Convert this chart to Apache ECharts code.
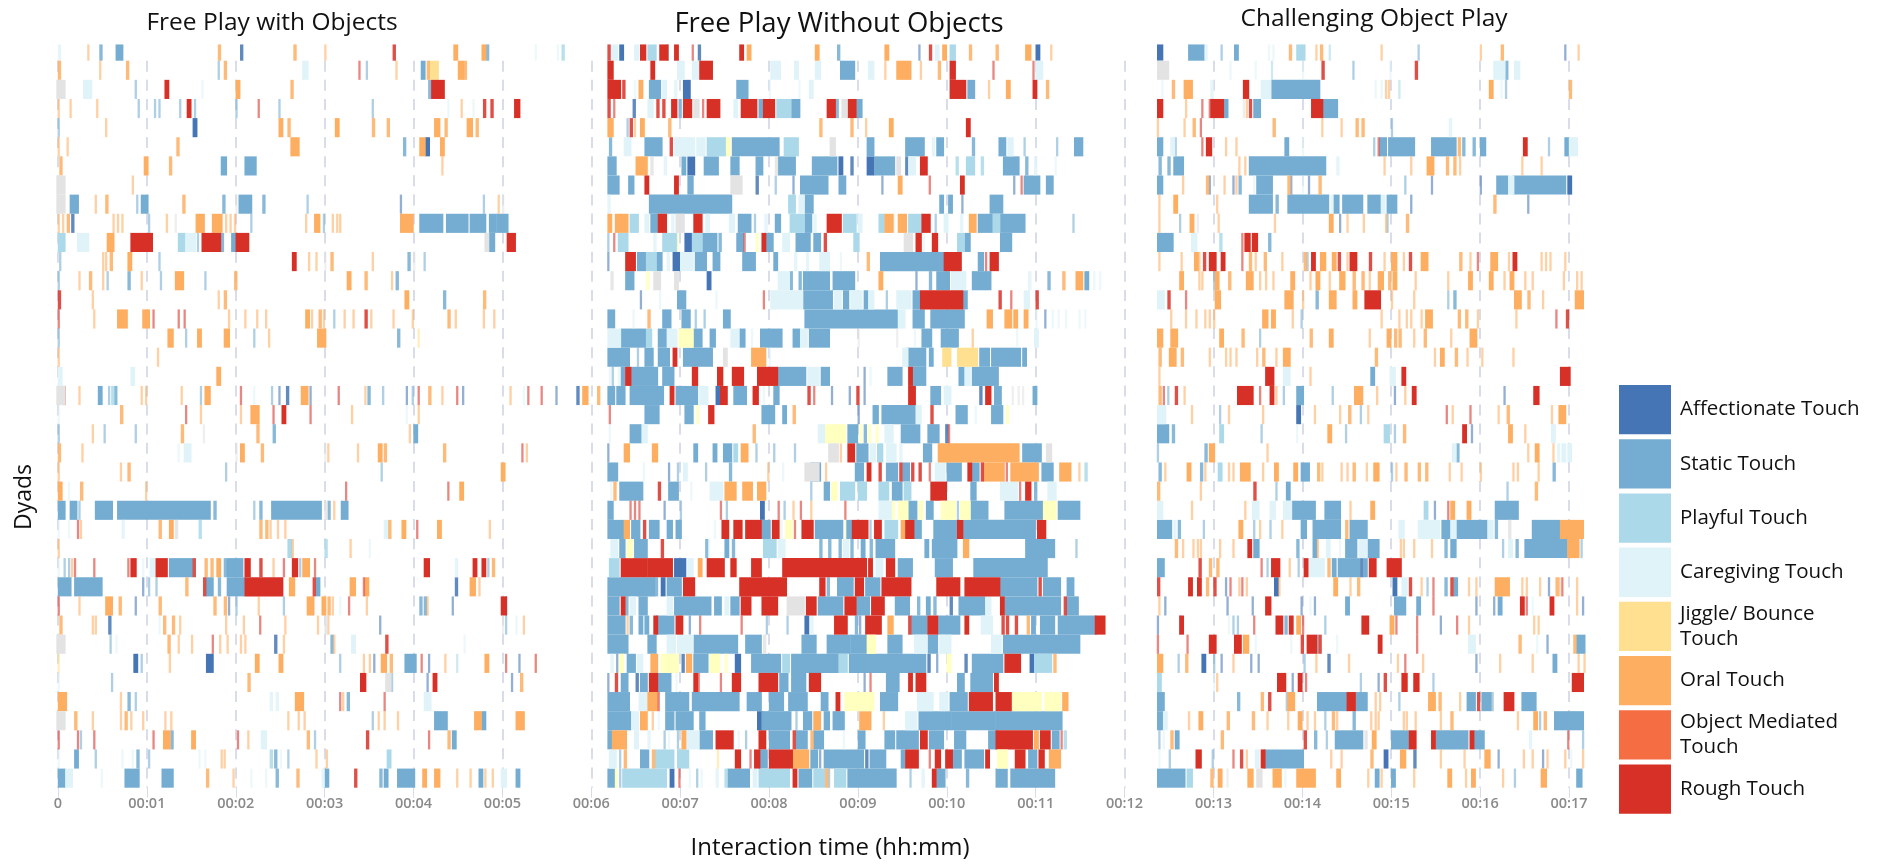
<!DOCTYPE html>
<html><head><meta charset="utf-8">
<script src="https://cdn.jsdelivr.net/npm/echarts@6/dist/echarts.min.js"></script>
<style>html,body{margin:0;padding:0;background:#fff}#c{width:1879px;height:865px}</style>
</head><body><div id="c"></div>
<script>
const A=0,S=1,P=2,C=3,J=4,O=5,M=6,R=7,Y=8,G=9;
const touchTypes=['Affectionate Touch','Static Touch','Playful Touch','Caregiving Touch','Jiggle/ Bounce Touch','Oral Touch','Object Mediated Touch','Rough Touch','Jiggle (pale)','Not coded'];
const touchColors=['#4575b4','#74add1','#abd9e9','#e0f3f8','#fee090','#fdae61','#f46d43','#d73027','#ffffbf','#e3e3e3'];
const minuteLabels=['0','00:01','00:02','00:03','00:04','00:05','00:06','00:07','00:08','00:09','00:10','00:11','00:12','00:13','00:14','00:15','00:16','00:17'];
const panelTitles=['Free Play with Objects','Free Play Without Objects','Challenging Object Play'];
// each dyad row: start second, duration in seconds, touch type
const freePlayWithObjects=[
[0,2,C,20,1,O,28,2,S,39,5,S,108,2,O,123,2,A,159,2,O,180,1,O,226,2,R,267,3,O,286,3,O,289,2,S,322,1,C,337,1,C,340,2,P],
[0,2,O,28,1,O,46,2,O,108,1,S,112,2,O,165,4,C,203,1,R,208,1,S,228,1,O,245,3,S,249,2,O,251,6,J,270,4,O,274,2,O],
[-1,6,G,17,6,C,52,1,S,72,3,R,97,1,C,120,3,O,157,2,O,250,2,S,252,9,R],
[0,1,O,8,1,O,26,1,O,54,1,S,65,1,S,68,1,S,82,1,S,87,3,R,92,1,S,120,1,S,135,1,R,149,1,S,212,1,S,263,1,C,272,1,O,280,1,C,287,2,R,292,2,R,308,4,R],
[0,1,S,32,1,O,91,3,A,149,3,O,155,2,O,187,3,O,212,2,O,222,2,O,254,4,O,261,2,O,276,4,O,282,2,O],
[0,1,O,6,1,O,80,2,O,157,6,O,233,2,S,244,4,O,248,3,A,258,3,O],
[1,2,O,58,3,O,75,2,O,110,4,S,126,8,S,259,1,O],
[-1,6,G,50,1,O],
[-1,6,G,8,6,S,25,1,O,32,2,O,53,1,S,56,5,S,84,2,O,111,2,S,120,1,G,122,9,S,138,2,S,168,1,S,231,1,A,287,1,S,297,1,O,300,1,G],
[0,1,O,3,1,O,6,2,O,9,2,A,37,1,O,40,1,O,43,1,O,61,1,S,73,1,O,79,1,G,93,6,O,104,7,O,113,1,O,116,1,O,119,1,O,130,1,S,167,1,O,173,4,O,179,1,S,185,1,O,188,1,O,190,1,O,231,9,O,244,16,S,262,15,S,278,11,S,291,5,S,296,8,S],
[0,5,P,13,8,C,33,5,O,49,15,R,81,5,P,86,7,C,94,1,S,97,13,R,110,2,S,117,4,S,120,9,R,288,3,G,291,4,S,303,6,R],
[1,1,S,30,1,O,32,1,O,35,2,O,47,3,O,68,1,S,158,3,R,169,1,O,174,1,O,180,1,G,184,2,O,212,1,O,236,2,S,240,1,G,247,1,S],
[0,1,S,14,1,O,21,2,O,30,1,O,33,1,S,47,2,S,56,1,O,69,1,S,79,6,O,99,1,S,119,2,O,195,3,O,207,2,O,225,1,O,228,2,S],
[0,2,R,23,1,O,108,1,O,112,2,O,234,3,O,260,2,S,287,2,O],
[0,1,R,24,1,O,40,7,O,57,5,O,64,1,R,81,1,R,85,1,R,115,1,O,126,1,O,134,1,O,140,1,O,167,3,O,171,1,O,176,2,O,179,1,O,186,1,S,193,1,O,199,1,O,207,2,R,211,1,O,226,1,O,239,1,O,263,2,O,268,1,O,287,1,O,294,1,O],
[0,1,S,74,4,O,86,1,S,94,3,O,112,4,O,132,1,S,142,1,O,175,6,O,229,2,S,243,1,J],
[0,1,O,67,1,O],
[0,3,C,49,3,C,107,3,O],
[-1,6,G,3,2,R,14,1,O,27,3,S,34,1,S,36,2,P,38,2,S,56,1,O,59,1,O,83,1,O,96,1,S,99,4,O,123,1,R,132,1,C,144,1,S,149,1,A,154,2,A,164,5,O,170,1,A,189,1,R,207,1,O,209,2,S,219,1,S,235,1,A,239,1,S,243,1,R,250,2,O,259,1,O,269,1,R,273,1,A,305,1,O,314,1,C,317,1,R,326,1,R,336,1,A,350,2,A,354,4,O,364,2,O],
[0,1,C,42,2,O,86,1,R,96,1,O,123,1,O,130,6,O,145,1,R,151,3,R,170,1,R,198,1,O,235,1,C,243,1,O],
[0,1,S,23,1,O,31,1,S,52,1,S,83,2,O,98,1,G,134,2,O,145,2,S,237,1,O,240,3,S],
[0,2,O,16,1,O,81,1,C,85,5,C,120,1,G,123,3,O,137,2,O,180,1,G,182,1,O,202,1,O,216,3,O,220,2,O,260,2,O,313,1,R,316,1,O],
[0,1,O,42,1,O,47,2,O,113,1,S,218,1,S,299,3,O],
[0,3,O,7,1,C,15,2,O,59,1,O,194,1,R,263,1,R,271,3,O],
[0,5,S,8,5,S,14,1,S,25,12,S,40,63,S,105,2,S,132,1,S,136,2,S,144,34,S,180,2,G,182,2,S,186,1,O,191,5,S],
[0,1,C,7,1,C,13,1,R,15,1,O,43,2,C,68,2,O,75,3,O,79,2,G,95,2,P,136,2,O,140,2,O,143,1,O,148,1,O,153,1,O,220,3,C,223,2,O,232,3,O,242,1,R,256,3,O,291,1,O],
[0,1,O,155,3,P,158,1,O,180,2,P,197,1,O,210,1,C],
[0,1,C,4,1,S,7,1,S,9,1,O,11,1,R,24,1,R,47,1,R,49,4,R,57,1,C,62,4,C,66,8,R,75,16,S,91,2,R,99,2,O,103,2,O,107,3,O,112,2,S,114,11,S,126,4,R,136,2,R,145,1,O,152,1,R,158,4,R,163,1,S,165,5,O,173,1,R,247,4,R,268,2,C,280,3,R,286,3,R,290,1,S,293,2,O],
[0,9,S,11,19,S,57,1,A,61,1,S,66,1,S,86,2,O,98,2,R,100,5,S,108,2,S,114,12,S,126,26,R,156,4,O,172,2,R,174,3,S,197,4,O,206,1,R,207,3,O,268,2,A,278,4,O,284,1,O],
[0,1,R,14,1,O,32,5,O,41,2,O,52,1,A,68,2,O,105,2,O,112,2,O,115,1,A,120,1,S,135,1,O,152,1,S,168,5,O,178,3,O,182,2,O,185,1,O,190,1,C,196,1,R,208,1,O,244,2,S,247,2,S,249,1,O,266,1,A,299,4,R,302,1,A],
[1,2,O,23,1,O,25,1,O,34,2,A,68,1,C,71,2,O,77,2,O,82,1,O,113,1,O,125,1,O,136,1,R,153,1,O,175,1,O,180,2,G,182,1,O,217,1,A,300,1,G,302,1,S,309,1,C,314,1,O],
[-1,6,G,35,1,S,39,1,C,74,2,O,81,1,O,90,1,O,104,1,R,109,1,O,114,1,O,123,1,O,126,1,O,146,2,A,152,1,O,184,2,S,186,1,O,198,3,C,221,2,R,274,1,C],
[0,1,J,51,3,A,56,1,S,75,1,O,100,5,A,133,3,O,149,3,O,190,1,S,206,1,O,210,1,O,213,1,A,218,4,O,224,2,O,234,8,S,245,1,R,250,1,A,261,1,O,269,1,P,288,3,O,302,1,R,311,1,A,322,1,R],
[0,1,C,36,1,S,128,2,O,204,4,R,221,4,G,225,1,S,249,1,A,253,3,R,306,1,A,312,2,O],
[0,6,O,42,1,O,47,2,S,52,1,S,143,2,C,147,2,C,160,6,O,190,1,R,192,1,O,195,2,S,220,1,R,247,5,C],
[-1,6,G,11,2,O,23,1,O,42,1,O,45,2,O,49,1,O,57,1,O,72,1,O,76,1,O,155,1,O,162,1,O,166,1,O,212,1,S,216,1,O,220,1,O,229,1,O,254,9,S,281,5,O,286,3,S,309,6,O],
[0,1,R,13,1,R,15,1,S,24,1,R,64,1,R,71,5,O,76,2,S,90,3,O,121,1,R,128,1,O,137,4,C,168,2,O,173,1,S,208,2,R,250,1,R,263,2,O,266,3,S],
[0,1,C,11,3,S,25,1,S,43,1,C,50,1,C,53,2,S,61,1,S,95,1,C,99,1,C,110,1,O,112,1,O,143,2,P,146,2,S,150,1,C,155,1,S,174,1,O,181,1,O,222,3,P],
[0,5,S,5,5,C,29,1,C,45,10,S,70,8,S,100,2,O,118,1,O,130,1,C,140,1,C,147,2,S,161,2,O,178,2,C,180,3,S,200,2,R,217,2,S,220,3,S,229,12,S,246,3,O,254,4,O,269,1,O,278,1,O,284,3,S,288,1,O,293,1,O,299,4,C,309,3,S]
];
const freePlayWithoutObjects=[
[371,2,R,373,5,C,379,3,A,389,3,C,393,4,R,398,6,P,406,6,R,411,1,A,416,3,R,428,1,R,432,2,A,460,3,R,465,3,O,511,3,O,526,2,S,558,3,O,581,1,A,588,2,R,592,3,C,597,3,O,602,4,P,615,2,O,633,2,O,653,4,O,660,3,A,670,1,O],
[371,4,R,400,3,R,418,5,C,428,5,C,433,9,R,481,7,C,497,3,C,511,4,C,528,10,S,547,4,C,558,1,O,566,10,O,582,1,O,594,2,O,602,4,R,631,1,R,658,1,R,660,5,C],
[371,9,R,381,2,R,389,1,C,392,3,O,399,8,S,408,3,C,416,2,C,422,5,A,458,8,S,480,1,C,500,1,C,507,3,C,602,11,R,614,5,S,628,1,O,640,3,O,658,3,R,667,2,O],
[371,2,R,375,1,R,388,2,A,398,4,C,404,2,R,408,2,R,414,4,R,419,2,S,422,6,R,429,4,G,435,1,R,438,9,R,456,3,C,461,11,R,473,3,S,476,8,R,485,10,P,495,6,S,519,6,R,525,2,S,529,4,G,533,6,R,539,4,S],
[371,4,O,384,1,S,386,2,R,389,1,O,393,3,O,412,2,O,514,2,O,535,2,O,545,1,O,561,3,O,613,3,R],
[372,2,S,382,5,C,396,12,S,413,2,R,416,14,C,431,6,C,438,13,P,451,3,Y,455,32,S,490,10,P,521,4,G,546,5,S,572,13,S,590,2,C,593,5,S,617,2,S,635,5,S,641,4,C,652,1,S,674,1,S,686,6,S],
[371,6,S,390,8,O,400,2,G,409,2,C,421,3,S,425,5,A,436,10,S,454,6,S,471,5,S,484,2,G,486,12,S,509,12,S,521,5,S,527,3,A,535,2,A,546,5,A,551,14,S,566,3,G,572,2,A,574,5,C,582,5,R,606,2,P,613,6,P,623,2,P,638,11,S,653,2,S,659,2,C,673,1,C],
[371,8,S,385,4,S,396,3,R,416,3,R,425,4,S,454,8,G,471,2,A,484,1,S,496,1,A,501,19,S,527,5,S,556,1,A,567,3,O,588,1,R,609,3,R,645,1,A,650,1,R,652,11,S,667,5,S],
[371,2,C,399,56,S,493,5,P,500,4,C,504,6,S,595,3,S,601,3,S,610,1,A,629,9,S],
[371,3,O,376,9,O,386,6,P,396,3,C,400,5,S,405,6,R,414,2,C,417,6,G,429,6,R,437,3,C,453,4,C,459,9,S,470,1,S,477,2,C,484,4,S,494,10,P,504,5,S,510,2,C,519,10,R,530,9,P,540,3,C,554,4,P,558,6,O,564,1,C,567,6,O,574,10,P,583,6,R,592,1,S,598,3,C,609,2,C,615,5,O,621,10,S,631,5,P,636,17,S,685,1,S],
[371,1,S,375,1,R,378,7,P,402,2,C,408,10,P,418,1,Y,423,5,A,428,7,P,435,10,S,446,2,S,458,5,S,463,1,R,471,2,Y,475,3,R,478,5,S,489,5,C,498,10,S,510,5,S,517,2,R,537,4,P,571,6,G,579,4,R,584,1,C,590,4,R,607,5,P,612,4,S,636,8,S],
[371,1,A,383,7,R,391,6,S,397,7,P,404,4,S,411,2,C,415,5,A,420,9,C,430,8,S,442,5,S,462,9,S,483,3,S,497,2,C,505,2,C,514,7,C,528,1,C,546,2,O,555,43,S,598,9,R,607,3,R,621,4,S,626,1,R,629,6,R],
[373,2,G,383,6,S,397,2,Y,402,5,G,416,3,G,438,3,A,486,8,C,494,2,S,500,2,S,503,18,S,523,15,S,554,3,O,579,1,A,588,2,S,593,9,S,603,10,C,617,13,S,655,2,C,668,2,S,678,2,O,687,5,O,693,3,S,699,1,C,703,1,C],
[393,1,A,406,1,C,418,6,S,444,1,C,476,1,R,481,22,C,503,20,S,524,5,C,530,4,S,535,8,C,544,3,S,547,4,C,559,1,S,566,10,C,577,5,S,582,29,R,611,3,S,635,2,R,643,1,R,652,4,C,660,2,R],
[371,5,S,388,1,C,398,2,O,408,6,S,421,6,S,430,1,S,436,1,S,449,5,S,504,63,S,567,5,C,577,5,S,582,3,S,589,23,S,627,4,O,639,5,O,645,3,O,652,3,O,660,1,C,666,1,A,671,1,C,675,1,C,680,1,C,689,1,C,693,1,C],
[371,9,C,380,17,S,397,4,P,405,6,S,411,7,C,419,10,Y,429,6,S,440,4,S,454,6,C,460,4,S,468,1,C,474,15,S,496,5,S,501,5,C,507,14,S,540,1,G,566,1,G,578,1,C,583,7,S,596,12,S,617,1,O,647,1,C,659,3,C],
[371,15,S,391,1,S,396,6,S,405,8,S,415,3,R,422,20,S,449,3,G,468,10,O,480,1,C,570,4,C,573,13,S,588,3,S,597,6,J,607,14,J,622,7,S,630,20,S,651,3,S],
[372,1,C,374,1,S,378,1,C,380,3,S,383,4,R,387,18,S,408,8,S,428,4,R,445,4,R,455,8,R,472,14,R,486,19,S,506,8,C,515,6,S,544,1,A,548,1,C,560,10,S,574,3,R,577,9,S,608,4,S,612,4,C,617,18,S],
[371,5,S,377,6,S,386,12,S,397,12,S,413,3,R,417,15,S,433,6,C,444,3,A,447,5,R,456,9,S,469,4,R,476,1,C,483,4,S,506,2,R,510,1,R,522,1,A,534,1,A,539,2,R,544,1,A,574,5,R,589,7,S,598,5,C,622,2,A,626,4,R,632,5,S,644,1,G,648,1,G,651,1,G,658,3,S],
[372,1,R,396,10,S,423,6,S,431,2,Y,439,4,R,475,9,S,489,3,S,496,2,O,540,1,A,550,4,S,556,23,S,579,4,C,589,2,R,606,8,S,619,1,C,630,8,S,640,2,Y],
[372,1,C,386,8,S,394,4,C,469,2,O,513,5,C,518,14,Y,533,7,S,541,2,Y,544,2,S,547,2,Y,552,2,Y,558,6,C,569,13,S,587,8,S,599,2,A,601,1,R],
[371,1,A,382,4,O,401,4,O,429,3,S,442,3,S,449,6,S,456,3,P,461,5,O,471,1,S,483,1,S,497,1,S,520,7,G,528,1,O,533,5,R,539,8,S,548,4,C,553,4,P,559,7,C,568,2,C,584,6,S,594,55,O,651,13,S,667,4,G],
[371,7,S,395,1,C,412,1,A,418,1,S,422,3,C,437,1,S,453,2,S,479,1,O,489,1,C,504,10,G,508,7,S,518,1,O,538,6,S,546,3,R,554,2,R,559,8,S,568,2,R,570,5,S,576,2,R,581,2,R,588,1,R,592,7,C,600,10,S,614,3,R,617,5,S,623,2,R,625,14,O,640,1,R,643,19,O,664,8,S,676,8,O,689,1,O,693,2,P],
[373,1,C,375,2,O,379,16,S,405,2,R,412,7,S,427,1,C,440,9,C,450,8,O,462,7,O,472,6,O,508,1,S,517,4,S,522,4,Y,528,10,P,540,6,P,554,7,P,563,7,S,571,5,P,589,11,R,616,4,S,636,12,C,649,1,R,653,4,R,659,2,S,668,6,C],
[371,4,S,386,1,R,389,1,R,392,1,R,409,1,A,420,1,S,447,1,R,451,1,S,474,3,A,486,1,R,490,1,S,496,1,O,501,1,R,508,1,O,531,1,R,554,9,C,563,2,Y,567,7,Y,574,6,S,581,3,Y,586,5,S,596,10,Y,607,1,S,609,7,Y,616,12,S,639,26,S,665,9,Y,675,15,S],
[371,11,S,382,4,O,387,6,S,395,2,R,399,7,S,411,4,S,417,4,S,443,1,C,448,5,R,456,6,R,464,11,R,475,6,S,482,5,R,488,1,C,491,5,Y,497,1,R,502,8,R,511,19,S,531,1,Y,532,4,S,536,11,R,548,1,S,551,5,R,558,9,P,569,3,O,572,6,R,578,5,S,591,16,S,607,4,R,611,49,S,661,6,R],
[373,5,C,379,4,S,384,4,Y,389,9,S,407,2,R,437,2,S,439,1,C,450,3,S,455,2,S,476,9,P,486,5,C,514,2,S,520,2,S,527,2,S,530,4,C,535,2,S,542,3,S,548,2,S,552,13,S,585,3,S,590,17,S,611,4,O,653,20,S,687,1,S],
[372,7,P,380,18,R,398,17,R,416,8,A,425,4,C,432,3,O,438,12,R,454,4,R,468,7,R,489,57,R,547,3,R,552,5,C,559,6,R,567,10,S,592,12,S,618,50,S],
[371,32,S,403,2,S,407,3,A,411,10,S,422,8,R,460,32,R,514,4,R,519,2,S,526,11,S,538,6,R,545,10,S,556,20,R,593,16,R,612,24,R,636,25,S,662,2,R,665,12,S,681,5,S],
[371,8,S,380,3,R,383,2,S,386,4,C,392,6,S,411,4,C,416,25,S,443,5,S,450,3,C,454,6,S,461,7,R,475,11,R,492,12,G,505,7,R,513,17,S,531,8,R,539,9,S,549,9,R,565,10,S,580,2,S,586,3,S,591,2,S,602,2,A,608,18,S,626,4,C,636,3,R,639,38,S,679,2,R,681,8,S],
[371,12,S,384,1,O,386,2,S,392,3,S,396,3,S,402,3,R,404,12,S,417,5,R,426,1,A,433,1,R,461,1,R,478,1,S,492,1,S,504,3,A,508,2,C,524,9,R,538,2,S,541,1,A,545,11,R,560,4,O,574,2,R,576,11,S,587,7,R,594,15,S,612,3,R,623,8,C,637,2,R,640,2,R,646,2,R,654,2,O,657,3,S,663,10,S,675,26,S,700,7,R],
[371,14,S,398,6,S,411,6,C,418,11,C,429,30,S,464,11,S,476,2,G,502,10,S,519,16,S,535,11,S,546,6,Y,560,10,S,578,9,C,587,7,S,595,8,C,630,7,C,638,52,S],
[373,2,C,377,1,A,379,3,Y,384,6,S,391,4,C,400,5,O,407,12,Y,421,2,A,424,4,O,429,10,S,440,7,Y,450,2,Y,457,4,A,468,20,S,489,5,P,495,32,S,527,6,P,534,52,S,587,2,A,593,1,A,600,3,Y,612,2,A,617,21,S,639,11,R,656,3,A,659,12,P,672,2,O],
[371,1,A,376,2,R,380,5,S,390,2,A,393,5,S,399,6,R,405,9,S,417,1,C,429,3,R,432,1,R,447,1,R,455,6,R,473,13,R,487,6,S,495,10,S,507,8,R,544,1,A,548,1,R,559,9,S,574,3,R,579,7,R,607,5,S,616,15,S,632,3,R],
[371,15,S,392,6,C,398,7,O,405,1,R,410,16,S,428,32,S,465,10,S,480,10,S,493,6,S,499,7,S,515,5,S,525,3,R,531,20,Y,555,12,S,580,11,C,595,6,C,602,12,S,615,16,R,633,11,R,644,20,Y,666,11,Y,678,4,O],
[371,16,S,387,5,C,393,5,O,401,1,O,405,1,C,410,6,S,417,12,S,433,4,S,472,4,A,475,20,S,498,1,S,503,6,S,510,5,O,517,4,S,523,8,S,541,8,O,557,1,O,572,8,C,581,22,S,603,30,S,633,45,S],
[371,3,S,374,10,O,389,3,C,398,2,C,409,1,S,412,1,C,418,1,S,421,3,O,424,9,C,433,9,S,444,12,R,459,1,C,464,1,S,473,5,R,480,14,S,496,2,R,498,8,S,508,2,O,510,7,S,530,1,C,540,5,S,558,7,S,566,15,S,582,5,R,588,10,S,605,8,S,628,6,S,633,25,R,659,3,O,663,7,R,671,5,S,677,1,R,679,2,P],
[372,5,C,379,1,S,382,2,O,393,6,S,401,2,O,403,13,P,418,8,P,445,1,J,457,4,R,467,1,R,470,4,R,473,6,S,480,16,R,496,11,O,508,5,S,514,1,A,517,27,S,545,2,A,548,11,S,569,3,S,572,9,R,588,1,R,592,4,R,599,5,R,604,6,S,612,13,S,626,3,R,634,7,Y,646,7,R,655,6,S,662,4,R,669,8,O],
[371,5,S,376,2,Y,379,1,S,381,30,P,413,3,A,419,1,R,426,1,C,431,1,S,434,1,C,444,2,C,450,2,P,452,15,S,469,3,C,473,21,P,496,3,R,500,9,S,510,8,P,518,2,O,520,1,S,524,8,P,533,33,S,575,1,S,583,2,C,590,3,R,593,6,S,613,2,S,633,8,S,643,30,S]
];
const challengingObjectPlay=[
[742,4,A,763,11,S,774,2,C,785,1,S,794,3,S,817,1,C,820,1,C,831,2,O,836,6,P,849,1,O,852,2,O,858,1,P,893,1,O,918,1,S,960,1,O,974,2,O,1017,1,A,1026,1,O],
[742,8,G,791,1,C,808,1,C,819,1,P,840,1,C,853,2,R,874,1,S,899,1,C,916,2,R,969,8,C,977,2,S,983,4,C],
[745,1,C,752,2,O,760,6,O,778,2,C,800,4,R,812,7,C,819,33,S,889,1,C,893,1,C,896,1,O,898,1,O,905,1,P,966,3,O,974,1,C,977,1,S,1020,2,O],
[742,4,R,761,1,O,772,1,R,777,1,R,778,9,R,787,3,S,800,1,G,802,1,O,804,2,R,807,5,S,846,8,R,854,10,S],
[742,1,O,760,1,O,766,2,O,771,1,R,820,2,O,853,1,O,866,1,O,876,2,O,880,2,O,900,1,S,939,2,C],
[742,4,S,751,3,C,754,1,S,772,1,R,775,4,R,788,1,O,795,1,O,828,3,S,840,1,C,888,1,S,891,1,R,892,5,S,898,18,S,927,17,S,945,2,O,948,2,S,955,2,S,960,4,S,989,3,R,1006,1,S,1017,3,S,1020,6,C],
[743,2,S,749,2,S,753,7,S,797,1,O,801,1,O,804,52,S,863,2,C,895,1,O,913,1,O,924,5,O,937,2,O,942,2,O,946,1,O,988,1,O,1001,1,O],
[742,4,S,759,1,O,775,2,O,777,1,A,787,1,O,793,1,A,795,1,O,797,2,S,807,1,C,809,11,S,830,2,O,832,1,A,840,1,C,844,1,A,851,2,O,909,1,S,927,1,A,960,1,A,971,8,S,979,4,C,982,36,S,1019,3,A],
[743,1,O,753,3,O,782,1,O,804,16,S,822,2,S,830,28,S,859,2,C,861,4,S,867,14,S,884,9,S,893,3,C,897,7,S,913,1,A,969,2,O,992,1,A],
[743,1,O,757,1,S,764,3,O,769,1,G,783,1,O,821,1,O,858,3,O,865,1,A,870,1,O,881,1,O,896,1,O,897,1,S,910,2,O],
[742,11,S,765,4,C,784,2,P,799,1,R,801,4,R,806,4,R,817,2,S],
[743,1,O,758,1,O,767,3,O,770,1,O,773,2,R,777,5,R,785,3,R,799,1,R,804,2,O,808,1,O,814,2,O,826,1,O,841,2,O,843,1,S,846,3,R,852,4,O,860,3,O,864,2,R,870,1,O,872,5,R,885,2,R,895,1,O,900,4,O,908,1,O,912,2,R,920,5,O,946,2,O,953,1,O,958,1,R,967,5,O,979,1,O,982,3,R,1001,1,O,1004,1,O,1007,1,O,1017,1,O],
[757,3,O,770,1,O,772,1,O,780,1,S,781,3,O,790,2,O,802,5,O,811,1,O,815,1,O,820,1,O,832,3,O,845,1,O,849,3,O,858,1,O,865,4,O,874,2,O,880,2,O,885,1,O,891,4,O,898,2,O,901,3,O,916,1,O,938,1,O,952,3,O,966,3,O,976,1,O,980,3,O,990,1,O,995,1,O,1016,1,O,1025,1,O,1028,1,O],
[742,5,C,749,2,R,761,1,R,781,4,O,828,6,O,840,1,O,849,2,S,858,5,O,874,3,O,882,11,R,900,1,O,915,1,O,938,1,S,942,2,S,983,5,O,992,2,O,1002,1,O,1024,6,O],
[751,1,O,761,1,O,768,1,O,774,1,O,777,1,O,780,1,O,813,4,O,819,3,O,833,1,O,839,1,S,893,1,O,905,1,O,910,1,O,913,1,O,920,1,O,923,5,O,945,2,O,950,2,O,958,1,O,984,1,O,1011,1,R,1018,2,R],
[742,4,O,751,5,O,784,3,O,799,2,O,811,1,S,845,2,O,858,3,O,885,1,O,897,3,O,902,2,O,905,2,O,915,1,O,922,2,O,940,1,O,953,5,O],
[743,2,O,750,5,O,758,2,O,777,1,O,788,1,O,791,1,O,795,1,O,809,1,O,813,2,O,822,1,O,827,5,O,889,2,O,929,1,O,933,3,O,943,2,O,951,1,O,961,1,O,982,1,O],
[743,1,O,815,6,R,827,5,C,845,1,O,886,3,S,899,4,C,907,3,R,1014,7,R],
[743,2,O,746,1,R,749,1,S,754,2,R,760,1,O,796,11,R,811,1,R,818,3,R,822,1,O,827,1,S,836,5,S,860,1,S,875,6,O,890,1,O,902,1,A,909,1,O,914,3,R,976,1,A,996,4,R],
[742,6,C,765,1,O,784,1,S,790,1,O,813,1,O,836,3,A,848,1,O,865,1,O,871,2,O,879,1,S,884,1,O,937,1,R,941,1,O,953,1,R,972,1,O,978,2,O,1008,1,O,1013,5,O],
[742,8,S,752,2,S,784,3,P,812,1,S,836,1,C,857,3,O,869,1,S,895,4,P,902,1,S,908,2,O,948,3,R,954,1,A,979,3,O,990,1,O,1008,3,C],
[742,1,S,774,2,S,777,4,O,816,1,O,941,3,C,944,2,S,992,1,O,997,3,O,1009,1,O,1012,2,C,1015,3,C,1019,3,C],
[743,2,S,747,1,O,762,3,O,771,2,S,774,1,O,783,3,P,790,1,O,793,1,O,798,7,O,813,1,O,821,3,O,834,3,O,839,6,S,850,2,O,853,1,O,866,1,O,870,1,O,874,2,O,883,1,O,888,4,O,900,1,S,903,1,O,909,2,O,918,2,O,923,2,O,939,1,O,947,1,O,960,1,O,982,1,O,985,1,O,999,1,O,1009,2,S],
[742,2,O,771,1,O,807,2,R,822,1,S,829,3,S,978,1,S,997,2,O],
[742,4,C,765,1,O,801,1,O,806,5,C,818,4,C,827,6,C,833,16,S,855,11,S,872,1,O,886,3,O,922,3,P,929,1,A,938,1,R,940,3,O,951,3,O,970,16,S],
[742,10,S,753,2,C,756,2,S,773,1,S,797,3,O,807,1,S,811,1,O,818,1,S,826,1,O,839,4,S,847,19,S,869,2,O,872,12,S,905,4,C,918,15,C,934,6,S,940,4,C,944,21,S,965,4,C,970,2,S,979,2,G,995,19,S,1014,16,O],
[754,2,O,759,1,O,766,1,O,769,1,O,771,1,O,784,1,O,793,1,O,803,3,R,807,4,S,836,2,S,847,3,S,850,1,O,856,3,C,865,1,C,869,8,S,878,6,C,884,8,S,906,1,O,908,1,O,915,1,O,927,1,O,936,2,S,940,4,S,975,1,S,979,3,C,984,2,S,990,29,S,1019,8,O,1028,1,S],
[742,5,S,770,2,R,777,2,O,782,2,O,812,1,R,816,1,S,819,6,R,831,1,O,837,1,S,841,3,R,844,11,C,857,2,O,860,3,S,864,15,S,879,2,A,881,3,S,885,5,R,897,10,R],
[742,2,R,763,3,R,769,3,R,775,2,O,780,2,R,788,1,A,791,1,R,797,1,O,799,1,R,802,1,O,821,3,A,824,1,O,861,3,O,872,1,O,877,2,O,901,3,A,907,4,C,912,2,R,920,1,O,924,1,S,928,1,R,936,2,S,940,2,R,942,3,S,952,1,O,957,1,O,970,10,O,988,1,O,991,1,O,1000,1,O,1006,1,A,1011,2,O,1013,1,O,1015,1,R,1025,1,O],
[743,1,O,747,1,A,789,1,A,806,1,A,815,4,R,839,1,A,845,1,C,848,1,A,869,3,S,902,8,S,917,3,S,928,1,R,957,1,A,969,1,A,972,3,S,987,3,R,991,1,R,995,1,C,1007,3,R,1025,1,O,1029,1,A],
[742,1,A,757,1,S,757,3,R,790,1,C,793,1,S,796,1,S,807,1,R,822,5,R,828,2,S,831,3,R,836,3,O,840,1,R,855,1,S,880,5,R,899,3,O,903,1,R,917,1,R,933,1,A,944,1,R,952,1,O,996,1,O,999,1,O],
[742,1,R,762,1,R,777,5,R,794,5,R,800,4,O,808,1,C,832,1,C,839,2,R,843,7,R,850,1,S,851,2,R,863,1,C,891,3,R,917,1,R,952,5,C,986,2,O,998,1,C,1005,1,A,1023,2,O,1025,6,S],
[742,4,O,756,1,S,761,2,O,772,3,A,780,1,S,785,1,A,793,1,O,805,1,A,810,1,A,841,1,S,849,1,O,857,2,A,871,1,O,904,1,O,909,1,R,921,1,O,957,1,A,973,1,O,995,1,O,1009,3,S,1026,1,O,1030,1,O],
[742,3,P,780,1,C,782,1,O,823,6,R,833,1,A,837,3,R,842,1,R,879,1,S,891,1,A,895,2,R,907,4,R,915,4,R,928,1,S,1022,8,R],
[742,5,S,796,2,S,812,2,O,817,2,R,829,1,S,830,5,O,850,20,S,870,6,R,876,8,S,889,1,O,892,1,O,905,1,S,925,5,O,932,2,O,946,1,O,951,6,S,958,2,R,961,8,S,968,1,G,976,7,R,988,10,S],
[742,4,S,746,3,C,763,1,O,770,3,O,789,2,O,806,2,O,816,1,O,830,1,O,837,3,O,843,1,O,848,1,O,855,1,S,860,2,O,863,1,O,874,2,S,886,1,O,889,1,O,891,1,O,908,1,O,910,1,O,916,1,O,933,1,O,940,2,O,985,1,O,996,3,O,1000,1,S,1003,2,O,1010,20,S],
[743,1,S,746,1,C,751,2,O,754,3,S,785,2,O,841,2,R,848,2,S,856,1,S,862,19,S,882,2,G,887,3,O,900,12,S,912,5,R,927,3,R,930,22,S,953,3,R,956,7,S,993,2,C,1019,1,R,1029,1,S],
[743,1,C,750,1,S,768,4,R,779,1,S,793,1,R,798,2,R,802,1,O,808,3,C,812,3,R,814,27,S,859,1,O,866,1,O,886,2,O,895,3,A,906,4,O,915,2,A,933,1,O,949,1,O,963,4,O,972,1,A,989,1,O,995,1,O,1002,1,A,1005,1,O,1017,1,O,1021,1,C,1029,1,O],
[742,19,S,762,4,P,778,2,O,783,3,O,789,1,G,803,4,O,809,4,G,820,6,O,828,1,C,836,13,O,863,3,O,884,1,O,889,3,S,893,1,O,900,3,S,915,1,O,938,3,O,950,1,O,954,3,O,975,1,O,983,1,S,1001,4,O,1025,4,S]
];

const byType=touchTypes.map(()=>[]);
[freePlayWithObjects,freePlayWithoutObjects,challengingObjectPlay].forEach(panel=>{
  panel.forEach((row,r)=>{
    for(let i=0;i<row.length;i+=3) byType[row[i+2]].push([row[i],row[i]+row[i+1],r===0?0.15:r,r+1,row[i+1]]);
  });
});
const renderItem=(params,api)=>{
  const a=api.coord([api.value(0),api.value(2)]);
  const b=api.coord([api.value(1),api.value(3)]);
  const d=api.value(4);
  const w=b[0]-a[0];
  return {type:'rect',shape:{x:a[0]-(d<=1?0.4:0.2),y:a[1],width:d<=1?2.3:w+0.4,height:b[1]-a[1]},
    style:{fill:api.visual('color'),opacity:d<=1?0.58:(d<=2?0.85:1)}};
};
const font='"Open Sans",sans-serif';
const titleStyle={fontFamily:font,fontSize:24.5,fontWeight:'normal',color:'#111'};
const chart=echarts.init(document.getElementById('c'),null,{renderer:'canvas'});
chart.setOption({
  animation:false,
  backgroundColor:'#fff',
  title:[
    {text:panelTitles[0],left:267,top:6,textAlign:'center',textStyle:titleStyle},
    {text:panelTitles[1],left:834,top:5,textAlign:'center',textStyle:{...titleStyle,fontSize:27.5}},
    {text:panelTitles[2],left:1369,top:2,textAlign:'center',textStyle:titleStyle}
  ],
  grid:{left:58,top:60.7,width:1511,height:727},
  xAxis:{type:'value',min:0,max:1020,interval:60,
    axisLine:{show:false},
    axisTick:{show:true,length:10,lineStyle:{color:'#d8dbe8',width:1}},
    axisLabel:{margin:9,color:'#8a8a8a',fontFamily:font,fontSize:14.5,fontWeight:600,formatter:v=>minuteLabels[v/60]},
    splitLine:{show:true,lineStyle:{color:'#d9dce9',width:2,type:[11,8.1],dashOffset:0}}},
  yAxis:{type:'value',min:1,max:39,inverse:true,show:false,splitLine:{show:false}},
  legend:{data:touchTypes.slice(0,8),orient:'vertical',left:1619,top:385,padding:0,itemWidth:52,itemHeight:49.3,itemGap:4.9,icon:'rect',selectedMode:false,
    formatter:n=>n.replace('Bounce Touch','Bounce\nTouch').replace('Mediated Touch','Mediated\nTouch'),
    textStyle:{fontFamily:font,fontSize:20.5,color:'#111',padding:[0,0,0,4],lineHeight:24.6}},
  tooltip:{show:false},
  graphic:[
    {type:'text',x:24,y:497,rotation:Math.PI/2,style:{text:'Dyads',fontFamily:font,fontSize:23,fill:'#111',textAlign:'center',textVerticalAlign:'middle'}},
    {type:'text',x:830,y:848,style:{text:'Interaction time (hh:mm)',fontFamily:font,fontSize:24,fill:'#111',textAlign:'center',textVerticalAlign:'middle'}}
  ],
  series:touchTypes.map((name,i)=>({type:'custom',name,renderItem,itemStyle:{color:touchColors[i]},
    encode:{x:[0,1],y:[2,3]},data:byType[i],silent:true,clip:false}))
});
</script></body></html>
